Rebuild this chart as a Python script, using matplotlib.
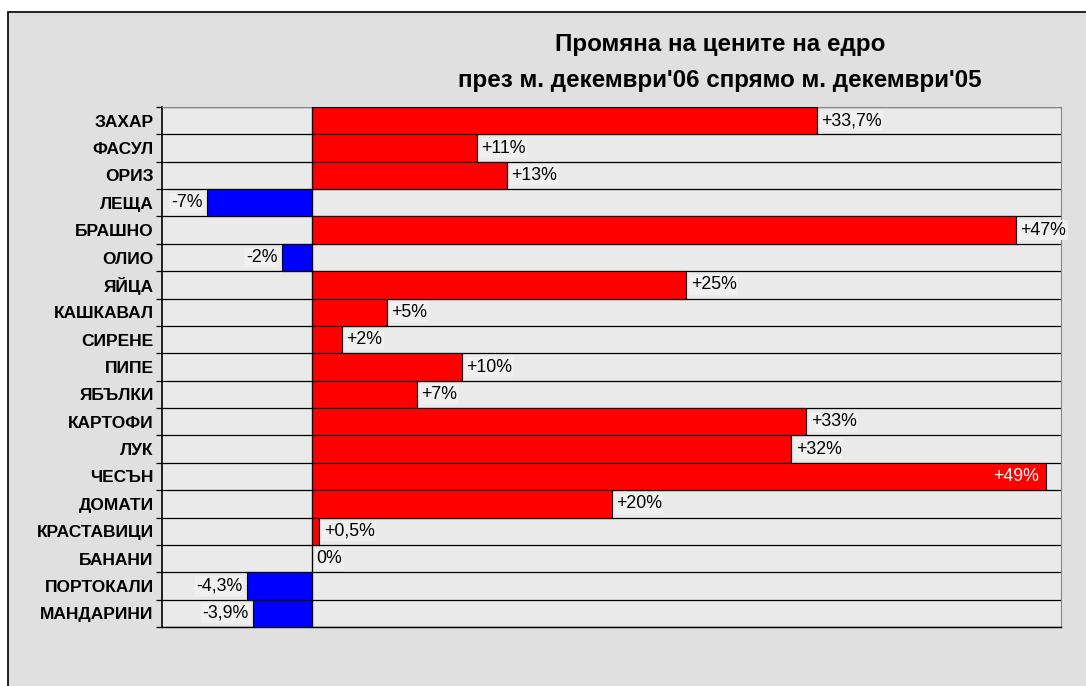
# Промяна на цените на едро - dec'06 vs dec'05

import numpy as np
import matplotlib.pyplot as plt
from matplotlib import font_manager
from matplotlib.patches import Rectangle

products = ['ЗАХАР', 'ФАСУЛ', 'ОРИЗ', 'ЛЕЩА', 'БРАШНО', 'ОЛИО', 'ЯЙЦА',
            'КАШКАВАЛ', 'СИРЕНЕ', 'ПИПЕ', 'ЯБЪЛКИ', 'КАРТОФИ', 'ЛУК', 'ЧЕСЪН',
            'ДОМАТИ', 'КРАСТАВИЦИ', 'БАНАНИ', 'ПОРТОКАЛИ', 'МАНДАРИНИ']
changes = [33.7, 11, 13, -7, 47, -2, 25, 5, 2, 10, 7, 33, 32, 49, 20, 0.5, 0, -4.3, -3.9]
labels = ['+33,7%', '+11%', '+13%', '-7%', '+47%', '-2%', '+25%', '+5%', '+2%',
          '+10%', '+7%', '+33%', '+32%', '+49%', '+20%', '+0,5%', '0%', '-4,3%', '-3,9%']

installed = {f.name for f in font_manager.fontManager.ttflist}
narrow = 'Liberation Sans Narrow' if 'Liberation Sans Narrow' in installed else 'Liberation Sans'
plt.rcParams['font.family'] = [narrow, 'DejaVu Sans']

fig = plt.figure(figsize=(10.86, 6.86), dpi=100)
fig.patch.set_facecolor('white')

# outer frame of the chart
frame = Rectangle((8 / 1086, -0.01), 1.0, 1 - 12 / 686 + 0.01, transform=fig.transFigure,
                  facecolor='#e0e0e0', edgecolor='black', linewidth=1.2, zorder=-10)
fig.patches.append(frame)

ax = fig.add_axes([162 / 1086, 1 - 627 / 686, (1061 - 162) / 1086, (627 - 107) / 686])
ax.set_facecolor('#eaeaea')

y = np.arange(len(products))
colors = ['red' if v >= 0 else 'blue' for v in changes]
ax.barh(y, changes, height=1.0, color=colors, edgecolor='black', linewidth=0.8, zorder=3)

ax.set_xlim(-10, 50)
ax.set_ylim(len(products) - 0.5, -0.5)

# row separators
for b in np.arange(len(products) + 1) - 0.5:
    ax.axhline(b, color='black', linewidth=0.9, zorder=2)
ax.axvline(0, color='black', linewidth=0.9, zorder=4)

fs = 14 if narrow.endswith('Narrow') else 12.8
box = dict(facecolor='#f0f0f0', edgecolor='none', pad=1.0)
for i, (v, lab) in enumerate(zip(changes, labels)):
    if v >= 49:
        ax.text(v - 0.5, i, lab, ha='right', va='center', fontsize=fs,
                color='white', zorder=5)
    elif v >= 0:
        ax.text(v + 0.3, i, lab, ha='left', va='center', fontsize=fs,
                color='black', bbox=box, zorder=5)
    else:
        ax.text(v - 0.3, i, lab, ha='right', va='center', fontsize=fs,
                color='black', bbox=box, zorder=5)

ax.set_yticks(y)
ax.set_yticklabels(products, fontsize=12.5, fontweight='bold')
ax.set_yticks(np.arange(len(products) + 1) - 0.5, minor=True)
ax.tick_params(axis='y', which='major', length=0, pad=6)
ax.tick_params(axis='y', which='minor', length=4, width=0.9, direction='out')
ax.set_xticks([])

ax.spines['left'].set_linewidth(1.2)
ax.spines['bottom'].set_linewidth(1.0)
ax.spines['top'].set_color('#888888')
ax.spines['right'].set_color('#888888')
ax.spines['top'].set_linewidth(0.8)
ax.spines['right'].set_linewidth(0.8)

tfs = 19 if narrow.endswith('Narrow') else 17.4
fig.text(720 / 1086, 1 - 45 / 686, 'Промяна на цените на едро',
         ha='center', va='center', fontsize=tfs, fontweight='bold')
fig.text(720 / 1086, 1 - 80 / 686, "през м. декември'06 спрямо м. декември'05",
         ha='center', va='center', fontsize=tfs, fontweight='bold')

plt.savefig('out.png', dpi=100)
